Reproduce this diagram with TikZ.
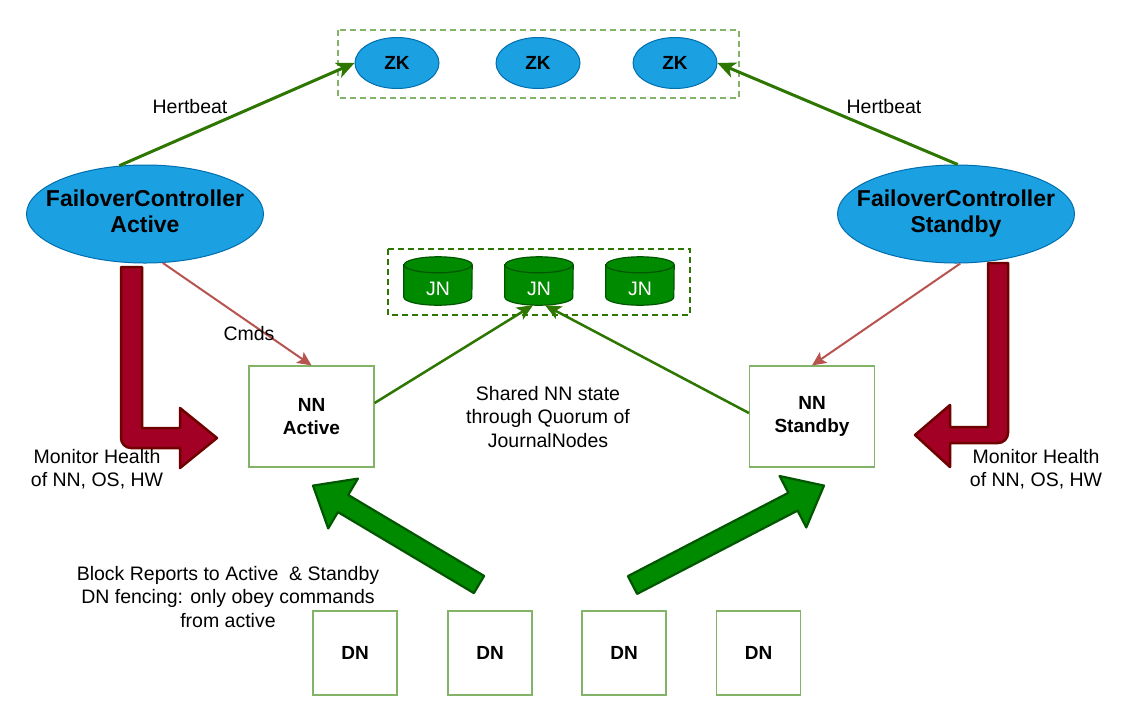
\documentclass[tikz,border=0pt]{standalone}
\usepackage{fontspec}
\setmainfont{Liberation Sans}
\usetikzlibrary{arrows.meta,calc,shapes.geometric}
\definecolor{zkfill}{HTML}{1BA1E2}
\definecolor{zkdraw}{HTML}{006EAF}
\definecolor{jnfill}{HTML}{008A00}
\definecolor{jndraw}{HTML}{005700}
\definecolor{boxgreen}{HTML}{82B366}
\definecolor{hbgreen}{HTML}{2D7600}
\definecolor{cmdred}{HTML}{B85450}
\definecolor{monfill}{HTML}{A20025}
\definecolor{mondraw}{HTML}{6F0000}
\newcommand{\jncyl}[1]{%
  \draw[jncylstyle] ([yshift=-8pt]#1.north west) -- ([yshift=8pt]#1.south west)
    arc[start angle=180,end angle=360,x radius=34pt,y radius=8pt]
    -- ([yshift=-8pt]#1.north east)
    arc[start angle=0,end angle=180,x radius=34pt,y radius=8pt] -- cycle;
  \draw[jncylstyle,fill=none] ([yshift=-8pt]#1.north west)
    arc[start angle=180,end angle=360,x radius=34pt,y radius=8pt];
}
\newcommand{\blockarr}[3]{% style, tail, tip
  \coordinate (bah) at ($(#3)!35pt!(#2)$);
  \draw[#1] ($(#2)!10pt!90:(#3)$) -- ($(bah)!10pt!90:(#3)$) -- ($(bah)!29pt!90:(#3)$)
    -- (#3) -- ($(bah)!29pt!-90:(#3)$) -- ($(bah)!10pt!-90:(#3)$) -- ($(#2)!10pt!-90:(#3)$) -- cycle;
}
\newcommand{\twoline}[2]{\makebox[0pt]{\begin{tabular}{@{}c@{}}#1\\#2\end{tabular}}}
\begin{document}
\begin{tikzpicture}[x=1pt,y=-1pt,
  zk/.style={ellipse, draw=zkdraw, fill=zkfill, line width=1pt, minimum width=84pt, minimum height=51pt, inner sep=0pt, font=\fontsize{19}{22}\selectfont\bfseries},
  fc/.style={ellipse, draw=zkdraw, fill=zkfill, line width=1pt, minimum width=237pt, minimum height=98pt, inner sep=0pt, font=\fontsize{23}{26}\selectfont\bfseries},
  jncell/.style={minimum width=68pt, minimum height=48pt, inner sep=0pt, text=white, font=\fontsize{19.5}{22}\selectfont},
  jncylstyle/.style={draw=jndraw, fill=jnfill, line width=1.2pt},
  nnbox/.style={draw=boxgreen, line width=1.2pt, fill=white, minimum width=125pt, minimum height=101pt, inner sep=0pt, align=center, font=\fontsize{19}{23.5}\selectfont\bfseries},
  dnbox/.style={draw=boxgreen, line width=1.2pt, fill=white, minimum width=84pt, minimum height=84pt, inner sep=0pt, font=\fontsize{19}{22}\selectfont\bfseries},
  grp/.style={dash pattern=on 6pt off 4pt, line width=1.2pt},
  lbl/.style={align=center, inner sep=0pt, font=\fontsize{19.5}{23.5}\selectfont},
  hb/.style={draw=hbgreen, line width=3pt, -{Stealth[length=18pt,width=16pt,inset=5pt]}},
  jnl/.style={draw=hbgreen, line width=2.5pt, -{Stealth[length=16pt,width=14pt,inset=4pt]}},
  cmd/.style={draw=cmdred, line width=2pt, -{Stealth[length=14pt,width=13pt,inset=3pt]}},
  mon/.style={draw=mondraw, fill=monfill, line width=2.5pt, line join=round},
  dnarr/.style={draw=jndraw, fill=jnfill, line width=2.2pt, line join=round}
]
\useasboundingbox (0,0) rectangle (1126,705);
\fill[white] (0,0) rectangle (1126,705);

% groups
\draw[grp, draw=boxgreen] (338,30) rectangle (739,98);
\draw[grp, draw=hbgreen] (388,249) rectangle (690,315);

% ZK
\node[zk] (zk1) at (397,63) {ZK};
\node[zk] (zk2) at (538,63) {ZK};
\node[zk] (zk3) at (675,63) {ZK};

% Failover controllers
\node[fc] (fca) at (145,214) {\twoline{FailoverController}{Active}};
\node[fc] (fcs) at (956,214) {\twoline{FailoverController}{Standby}};

% JN
\node[jncell] (jn1) at (438,281) {};
\node[jncell] (jn2) at (539,281) {};
\node[jncell] (jn3) at (640,281) {};
\jncyl{jn1}\jncyl{jn2}\jncyl{jn3}
\node[jncell, yshift=-8pt] (jn1t) at (jn1) {JN};
\node[jncell, yshift=-8pt] (jn2t) at (jn2) {JN};
\node[jncell, yshift=-8pt] (jn3t) at (jn3) {JN};

% NN
\node[nnbox] (nna) at (311.5,416.5) {NN\\Active};
\node[nnbox] (nns) at (812,416.5) {NN\\Standby};

% DN
\node[dnbox] (dn1) at (355,653) {DN};
\node[dnbox] (dn2) at (490,653) {DN};
\node[dnbox] (dn3) at (624,653) {DN};
\node[dnbox] (dn4) at (758.5,653) {DN};

% heartbeat
\draw[hb] (fca.118) -- (zk1.west);
\draw[hb] (fcs.88) -- (zk3.east);
\node[lbl] (hbl) at (190,107) {Hertbeat};
\node[lbl] (hbr) at (884,107) {Hertbeat};

% cmds
\draw[cmd] (fca.-70) -- (nna.north);
\draw[cmd] (fcs.-85) -- (nns.north);
\node[lbl] (cmdl) at (249,334) {Cmds};

% shared state
\draw[jnl] ([yshift=13.5pt]nna.east) -- ([xshift=-6pt]jn2.south);
\draw[jnl] ([yshift=3.5pt]nns.west) -- ([xshift=6pt]jn2.south);
\node[lbl] (shared) at (548,417) {Shared NN state\\through Quorum of\\JournalNodes};

% monitor health arrows
\draw[mon] (121,267) -- (142,267) -- (142,428) -- (180,428) -- (180,408) -- (217,438) -- (180,468) -- (180,448) -- (131,448) arc[start angle=270,end angle=180,radius=10pt] -- cycle;
\draw[mon] (988,263) -- (1008,263) -- (1008,433) arc[start angle=0,end angle=-90,radius=10pt] -- (950,443) -- (950,467) -- (915,435) -- (950,405) -- (950,427) -- (988,427) -- cycle;
\node[lbl] (monl) at (97,469) {Monitor Health\\of NN, OS, HW};
\node[lbl] (monr) at (1036,469) {Monitor Health\\of NN, OS, HW};

% block reports
\coordinate (tl) at (479,584.5);
\coordinate (tr) at (632.5,585);
\coordinate (hl) at ([xshift=1.5pt,yshift=-18pt]nna.south);
\coordinate (hr) at ([xshift=12pt,yshift=-18pt]nns.south);
\blockarr{dnarr}{tl}{hl}
\blockarr{dnarr}{tr}{hr}
\node[lbl] (blk) at (228,597) {Block Reports to Active~ \& Standby\\DN fencing: only obey commands\\from active};
\end{tikzpicture}
\end{document}
